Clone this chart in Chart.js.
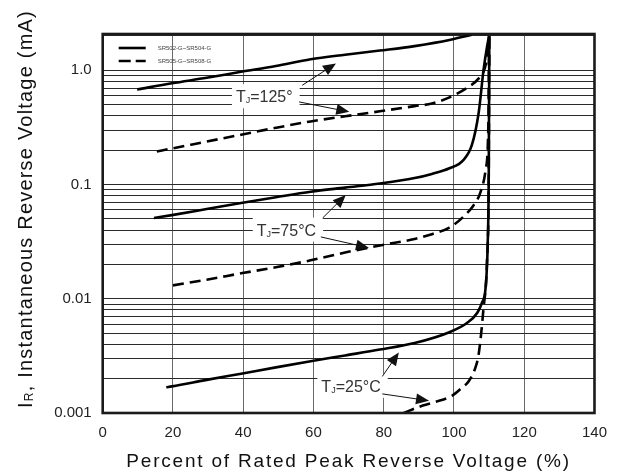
<!DOCTYPE html>
<html>
<head>
<meta charset="utf-8">
<script src="https://cdn.jsdelivr.net/npm/chart.js@4/dist/chart.umd.min.js"></script>
<style>
  html, body { margin: 0; padding: 0; background: #fff; }
</style>
</head>
<body>
<canvas id="myChart" width="618" height="475"></canvas>
<script>
const xTicks = [0, 20, 40, 60, 80, 100, 120, 140];
const yTickValues = [0.001, 0.01, 0.1, 1];
const yTickLabels = ['0.001', '0.01', '0.1', '1.0'];
const legendLabels = ['SR502-G~SR504-G', 'SR505-G~SR508-G'];
const tempLabels = ['125°', '75°C', '25°C'];

// TJ = 125
const x125Solid = [9.8, 19.7, 29.6, 39.4, 49.3, 59.2, 69, 78.9, 88.8, 98.7, 102.6, 105.1];
const y125Solid = [0.68, 0.77, 0.86, 0.97, 1.09, 1.25, 1.37, 1.49, 1.63, 1.84, 1.97, 2.05];
const x125Dash = [15.4, 19.7, 29.6, 39.4, 49.3, 59.2, 69, 78.9, 88.8, 93.7, 98.7, 103.6, 107.05, 108.8, 109.5, 110.0];
const y125Dash = [0.195, 0.207, 0.238, 0.273, 0.314, 0.357, 0.396, 0.438, 0.486, 0.512, 0.58, 0.70, 0.85, 1.05, 1.35, 2.0];

// TJ = 75
const x75Solid = [14.6, 19.7, 29.6, 39.4, 49.3, 59.2, 69, 78.9, 88.8, 93.7, 98.7, 102.6, 105.1, 107.05, 108.4, 109.4, 110.0];
const y75Solid = [0.051, 0.054, 0.061, 0.069, 0.0775, 0.0866, 0.094, 0.102, 0.114, 0.124, 0.139, 0.163, 0.222, 0.43, 1.0, 1.6, 2.0];
const x75Dash = [20, 29.6, 39.4, 49.3, 59.2, 69, 78.9, 88.8, 93.7, 98.7, 102.6, 105.6, 107.5, 109.0, 109.8, 110.0];
const y75Dash = [0.0131, 0.0147, 0.0167, 0.0189, 0.0217, 0.0254, 0.0293, 0.0334, 0.0368, 0.042, 0.052, 0.066, 0.085, 0.134, 0.35, 2.0];

// TJ = 25
const x25Solid = [18.1, 19.7, 29.6, 39.4, 49.3, 59.2, 69, 78.9, 88.8, 98.7, 103.6, 106.6, 108.0, 109.0, 109.6, 109.9, 110.0, 110.05];
const y25Solid = [0.00168, 0.00171, 0.00195, 0.00221, 0.00251, 0.00284, 0.00319, 0.00359, 0.0041, 0.0051, 0.0061, 0.0075, 0.0093, 0.0125, 0.03, 0.12, 0.6, 2.0];
const x25Dash = [85.7, 90, 94.7, 99.5, 102.1, 104.2, 106.1, 107.05, 108.4, 109.4, 109.9, 110.0, 110.05];
const y25Dash = [0.001, 0.00113, 0.00125, 0.00142, 0.00165, 0.0019, 0.0025, 0.0033, 0.0082, 0.0215, 0.12, 0.6, 2.0];

// label anchors and arrows, in data units: [fromX, fromY, toX, toY]
const notes = [
  { text: tempLabels[0], x: 46.0, y: 0.593, arrows: [[56.8, 0.74, 66.4, 1.15], [55.9, 0.529, 70.2, 0.433]] },
  { text: tempLabels[1], x: 52.3, y: 0.0403, arrows: [[62.6, 0.0509, 69.2, 0.0812], [62.1, 0.0348, 75.8, 0.0279]] },
  { text: tempLabels[2], x: 70.7, y: 0.00173, arrows: [[79.6, 0.00209, 84.3, 0.00339], [79.6, 0.00147, 92.9, 0.00128]] }
];

const FONT = '"Liberation Sans", Arial, sans-serif';
const DASH = [11, 6];

function pts(xs, ys) {
  return xs.map((x, i) => ({ x: x, y: ys[i] }));
}

function curve(label, xs, ys, dashed) {
  return {
    label: label,
    data: pts(xs, ys),
    borderColor: '#000',
    borderWidth: 2.6,
    borderDash: dashed ? DASH : [],
    pointRadius: 0,
    fill: false,
    cubicInterpolationMode: 'monotone'
  };
}

function richWidth(ctx, parts) {
  let w = 0;
  parts.forEach(p => {
    ctx.font = p.size + 'px ' + FONT;
    w += ctx.measureText(p.text).width;
  });
  return w;
}

function drawRich(ctx, parts, x, y) {
  parts.forEach(p => {
    ctx.font = p.size + 'px ' + FONT;
    ctx.fillText(p.text, x, y + (p.dy || 0));
    x += ctx.measureText(p.text).width;
  });
}

function noteParts(t) {
  return [{ text: 'T', size: 16 }, { text: 'J', size: 9, dy: 1 }, { text: '=' + t, size: 16 }];
}

function arrow(ctx, x1, y1, x2, y2) {
  const a = Math.atan2(y2 - y1, x2 - x1);
  const len = 13, half = 5.5;
  ctx.beginPath();
  ctx.moveTo(x1, y1);
  ctx.lineTo(x2 - Math.cos(a) * len * 0.8, y2 - Math.sin(a) * len * 0.8);
  ctx.lineWidth = 1;
  ctx.strokeStyle = '#111';
  ctx.stroke();
  ctx.beginPath();
  ctx.moveTo(x2, y2);
  ctx.lineTo(x2 - Math.cos(a) * len - Math.sin(a) * half, y2 - Math.sin(a) * len + Math.cos(a) * half);
  ctx.lineTo(x2 - Math.cos(a) * len + Math.sin(a) * half, y2 - Math.sin(a) * len - Math.cos(a) * half);
  ctx.closePath();
  ctx.fillStyle = '#111';
  ctx.fill();
}

const decor = {
  id: 'decor',
  beforeDatasetsDraw(chart) {
    const ctx = chart.ctx, xs = chart.scales.x, ys = chart.scales.y;
    ctx.save();
    notes.forEach(n => {
      const parts = noteParts(n.text);
      const w = richWidth(ctx, parts);
      const cx = xs.getPixelForValue(n.x), cy = ys.getPixelForValue(n.y);
      ctx.fillStyle = '#fff';
      ctx.fillRect(cx - w / 2 - 4, cy - 12, w + 11, 24);
    });
    ctx.restore();
  },
  afterDatasetsDraw(chart) {
    const ctx = chart.ctx, xs = chart.scales.x, ys = chart.scales.y;
    const a = chart.chartArea;
    ctx.save();
    // temperature labels
    notes.forEach(n => {
      const parts = noteParts(n.text);
      const w = richWidth(ctx, parts);
      const cx = xs.getPixelForValue(n.x), cy = ys.getPixelForValue(n.y);
      ctx.fillStyle = '#333';
      ctx.textBaseline = 'alphabetic';
      ctx.textAlign = 'left';
      drawRich(ctx, parts, cx - w / 2, cy + 6);
      n.arrows.forEach(r => {
        arrow(ctx, xs.getPixelForValue(r[0]), ys.getPixelForValue(r[1]),
          xs.getPixelForValue(r[2]), ys.getPixelForValue(r[3]));
      });
    });
    // legend
    ctx.strokeStyle = '#000';
    ctx.lineWidth = 2.6;
    ctx.font = '6px ' + FONT;
    ctx.textBaseline = 'middle';
    ctx.textAlign = 'left';
    legendLabels.forEach((lab, i) => {
      const y = a.top + 14 + i * 13;
      ctx.setLineDash(i === 0 ? [] : [12, 5]);
      ctx.beginPath();
      ctx.moveTo(a.left + 16, y);
      ctx.lineTo(a.left + 43, y);
      ctx.stroke();
      ctx.fillStyle = '#444';
      ctx.fillText(lab, a.left + 55, y);
    });
    ctx.setLineDash([]);
    // frame
    ctx.lineWidth = 2.6;
    ctx.strokeStyle = '#1a1a1a';
    ctx.strokeRect(a.left, a.top, a.right - a.left, a.bottom - a.top);
    ctx.restore();
  },
  afterDraw(chart) {
    const ctx = chart.ctx, a = chart.chartArea;
    ctx.save();
    ctx.fillStyle = '#111';
    ctx.textBaseline = 'alphabetic';
    ctx.textAlign = 'left';
    // x title
    if ('letterSpacing' in ctx) ctx.letterSpacing = '1.8px';
    const xParts = [{ text: 'Percent of Rated Peak Reverse Voltage (%)', size: 19 }];
    const xw = richWidth(ctx, xParts);
    drawRich(ctx, xParts, (a.left + a.right) / 2 - xw / 2, 467);
    // y title
    if ('letterSpacing' in ctx) ctx.letterSpacing = '1.2px';
    const yParts = [{ text: 'I', size: 20 }, { text: 'R', size: 12, dy: 1 }, { text: ', Instantaneous Reverse Voltage (mA)', size: 20 }];
    const yw = richWidth(ctx, yParts);
    ctx.translate(31.5, 209);
    ctx.rotate(-Math.PI / 2);
    drawRich(ctx, yParts, -yw / 2, 0);
    ctx.restore();
  }
};

new Chart('myChart', {
  type: 'line',
  data: {
    datasets: [
      curve(legendLabels[0], x125Solid, y125Solid, false),
      curve(legendLabels[1], x125Dash, y125Dash, true),
      curve(legendLabels[0], x75Solid, y75Solid, false),
      curve(legendLabels[1], x75Dash, y75Dash, true),
      curve(legendLabels[0], x25Solid, y25Solid, false),
      curve(legendLabels[1], x25Dash, y25Dash, true)
    ]
  },
  options: {
    responsive: false,
    animation: false,
    devicePixelRatio: 1,
    layout: { padding: { left: 0, right: 22, top: 34, bottom: 0 } },
    plugins: { legend: { display: false }, tooltip: { enabled: false } },
    scales: {
      x: {
        type: 'linear',
        min: 0,
        max: 140,
        afterBuildTicks: s => { s.ticks = xTicks.map(v => ({ value: v })); },
        afterFit: s => { s.height = 62; },
        grid: { color: '#6a6a6a', lineWidth: 1, drawTicks: false },
        border: { display: false },
        ticks: { padding: 11, color: '#222', maxRotation: 0, autoSkip: false, font: { family: FONT, size: 15 } }
      },
      y: {
        type: 'logarithmic',
        min: 0.001,
        max: 2.08,
        afterBuildTicks: s => {
          const t = [];
          yTickValues.forEach(d => {
            for (let k = 1; k <= 9; k++) {
              const v = +(d * k).toPrecision(3);
              if (v <= 2) t.push({ value: v });
            }
          });
          s.ticks = t;
        },
        afterFit: s => { s.width = 102.7; },
        grid: { color: '#2a2a2a', lineWidth: 1, drawTicks: false },
        border: { display: false },
        ticks: {
          padding: 11,
          color: '#222',
          autoSkip: false,
          font: { family: FONT, size: 15 },
          callback: v => {
            const i = yTickValues.findIndex(t => Math.abs(t - v) / t < 1e-6);
            return i < 0 ? '' : yTickLabels[i];
          }
        }
      }
    }
  },
  plugins: [decor]
});
</script>
</body>
</html>
